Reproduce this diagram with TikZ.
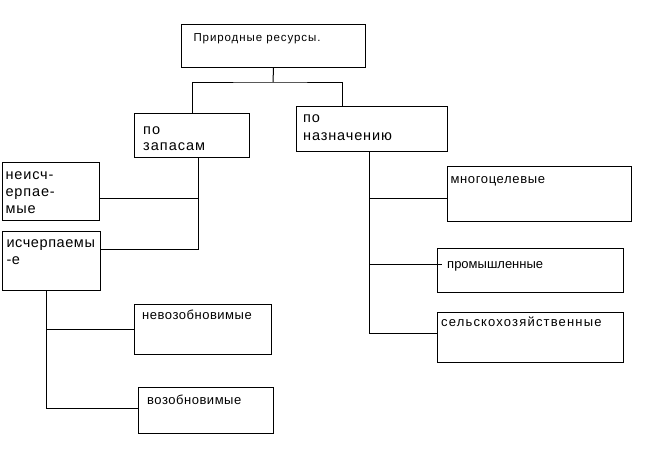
\documentclass[tikz,border=0pt]{standalone}
\usepackage{fontspec}
\setmainfont{Liberation Sans}
\usetikzlibrary{calc}
\newcommand{\shr}[3]{\fontsize{#1}{#2}\selectfont\addfontfeature{LetterSpace=#3}}
\newcommand{\blok}[8]{\node[blok] (#1) at (#2,#3) {\parbox[t][#5pt][t]{#4pt}{\raggedright\leftskip=#6pt\relax\rule{0pt}{#7pt}#8}};}
\tikzset{blok/.style={draw, inner sep=0pt, anchor=north west}}

\begin{document}
\begin{tikzpicture}[x=1pt,y=-1pt,line width=1pt]
        \useasboundingbox (0,0) rectangle (647,452);
        % boxes
        \blok{top}{181}{24}{184}{43}{12}{17}{\shr{11.5}{14}{8}Природные ресурсы.}
        \blok{zapas}{134}{113}{115}{44}{8.7}{21}{\shr{14.5}{16}{7}по\\запасам}
        \blok{naznach}{296}{105.7}{151}{45}{6.7}{16.6}{\shr{14.5}{17.7}{6}по\\назначению}
        \blok{neisch}{1.7}{161.7}{97.3}{58.3}{3.3}{17.6}{\shr{14.5}{17}{6}неисч-\\ерпае-\\мые}
        \blok{isch}{2}{230.7}{98}{59.3}{4}{16}{\shr{14.5}{17.3}{4}исчерпаемы\\-е}
        \blok{mnogo}{447}{166}{184}{55}{3}{16.7}{\shr{13}{15}{5}многоцелевые}
        \blok{prom}{437}{247.7}{186}{44.3}{9.7}{20.6}{\shr{13}{15}{0}промышленные}
        \blok{selsk}{437}{312}{186}{50}{3.7}{14}{\shr{13}{15}{9}сельскохозяйственные}
        \blok{nevoz}{134}{304}{137}{50}{7.7}{15.3}{\shr{13}{15}{4}невозобновимые}
        \blok{voz}{138}{387}{135}{46}{8.7}{17.3}{\shr{13}{15}{4}возобновимые}

        % lines
        \coordinate (bar) at (273,82);
        \draw (top.south) -- (bar);
        \draw (zapas.north) |- (bar) -| ([xshift=-29.5pt]naznach.north);

        \draw ([xshift=6.5pt]zapas.south) |- ([yshift=11.3pt]isch.east);
        \draw ([xshift=6.5pt]zapas.south |- neisch.east) ++(0,7.2) coordinate (zn) -- (zn -| neisch.east);

        \draw ([xshift=-2.5pt]naznach.south) |- ([yshift=4.3pt]selsk.west);
        \draw ([xshift=-2.5pt]naznach.south |- mnogo.west) ++(0,4.2) coordinate (nm) -- (nm -| mnogo.west);
        \draw ([xshift=-2.5pt]naznach.south |- prom.west) ++(0,-5.8) coordinate (np) -- ([xshift=4.7pt]np -| prom.west);

        \draw ([xshift=-5.3pt]isch.south) |- (nevoz.west);
        \draw ([xshift=-5.3pt]isch.south) |- ([yshift=2pt]voz.west);
\end{tikzpicture}
\end{document}
